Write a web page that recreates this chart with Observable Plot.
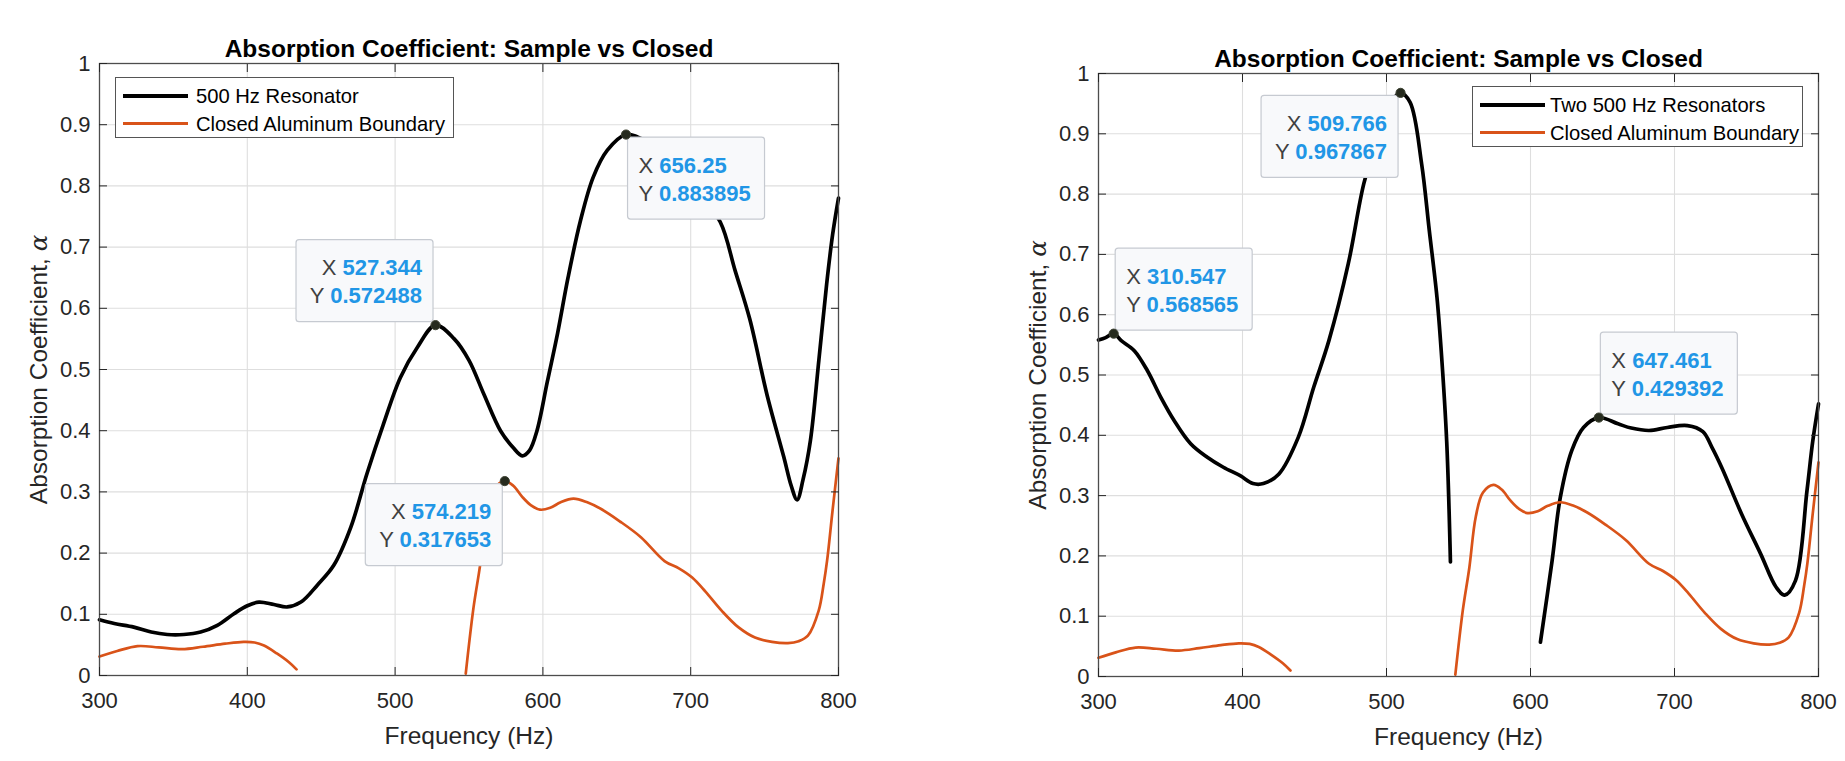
<!DOCTYPE html>
<html>
<head>
<meta charset="utf-8">
<script src="https://cdn.jsdelivr.net/npm/d3@7"></script>
<script src="https://cdn.jsdelivr.net/npm/@observablehq/plot@0.6"></script>
<style>
  body { margin: 0; background: #fff; font-family: "Liberation Sans", Arial, Helvetica, sans-serif; }
  #root { position: relative; width: 1845px; height: 761px; overflow: hidden; background: #fff; }
  .chart { position: absolute; top: 0; }
  .legend { position: absolute; background: #fff; border: 1px solid #555; box-sizing: border-box; }
  .legend .swatch { position: absolute; }
  .legend .lab { position: absolute; font-size: 20.2px; color: #000; line-height: 1; transform: translateY(-50%); white-space: nowrap; }
</style>
</head>
<body>
<div id="root"></div>
<script>
// ---------------- data ----------------
const chartTitle = "Absorption Coefficient: Sample vs Closed";
const xLabel = "Frequency (Hz)";
const yLabelMain = "Absorption Coefficient, ";
const yLabelSymbol = "α";

const xTicks = [300, 400, 500, 600, 700, 800];
const xTickLabels = ["300", "400", "500", "600", "700", "800"];
const yTicks = [0, 0.1, 0.2, 0.3, 0.4, 0.5, 0.6, 0.7, 0.8, 0.9, 1];
const yTickLabels = ["0", "0.1", "0.2", "0.3", "0.4", "0.5", "0.6", "0.7", "0.8", "0.9", "1"];

const nameOne = "500 Hz Resonator";
const nameTwo = "Two 500 Hz Resonators";
const nameClosed = "Closed Aluminum Boundary";

// Closed aluminum boundary (same in both panels); null = curve below the axis
const freqClosed = [300, 312, 325.7, 340, 355.8, 370, 385, 397.5, 405, 411.3, 420, 428, 433.3, 490,
  547.8, 553, 557.5, 562, 567, 574.219, 580, 586, 592, 598, 605, 612, 620.7, 630, 639.4, 652, 666.3,
  682.3, 692, 701, 710, 720.9, 732.2, 743.5, 755, 765.8, 773, 779.3, 786.6, 790, 792.3, 796, 800];
const alphaClosed = [0.031, 0.04, 0.048, 0.046, 0.043, 0.047, 0.052, 0.055, 0.054, 0.049, 0.036, 0.022, 0.01, null,
  0.003, 0.11, 0.18, 0.265, 0.305, 0.317653, 0.31, 0.292, 0.278, 0.271, 0.274, 0.283, 0.289, 0.283, 0.272, 0.252, 0.226,
  0.187, 0.175, 0.16, 0.137, 0.106, 0.079, 0.062, 0.055, 0.053, 0.056, 0.065, 0.106, 0.15, 0.188, 0.27, 0.355];

// One 500 Hz resonator
const freqOne = [300, 310, 323.2, 335, 345.8, 357, 368.4, 379.7, 391, 400, 407.9, 418, 427, 436.3, 447.5, 458.5,
  470, 481, 492, 503.6, 515, 527.344, 540, 550, 560, 571.3, 580, 586, 591, 596, 603, 610, 617, 625.4, 634,
  643.5, 656.25, 664, 675, 690, 705, 720, 730, 740, 751.7, 763, 768, 772, 776, 781, 786.7, 792, 796, 800];
const alphaOne = [0.091, 0.085, 0.079, 0.071, 0.067, 0.067, 0.071, 0.082, 0.101, 0.114, 0.12, 0.116, 0.112, 0.12, 0.148, 0.18,
  0.242, 0.33, 0.41, 0.487, 0.536, 0.572488, 0.55, 0.515, 0.46, 0.40, 0.372, 0.359, 0.368, 0.40, 0.48, 0.56, 0.65, 0.743, 0.814,
  0.858, 0.883895, 0.88, 0.866, 0.83, 0.79, 0.741, 0.662, 0.582, 0.458, 0.357, 0.31, 0.287, 0.32, 0.384, 0.515, 0.64, 0.72, 0.78];

// Two 500 Hz resonators; null = curve outside the axes
const freqTwo = [300, 305, 310.547, 315.8, 325, 334, 343.3, 352.4, 364, 375.3, 386.7, 398.4, 407.3, 414.5, 425.3,
  438.8, 449.5, 460, 473.5, 484.2, 495, 503, 509.766, 516.4, 524.4, 529.7, 535, 538, 541.8, 544.4, 575,
  606.9, 615, 620.7, 628.7, 636.8, 647.461, 660.8, 670, 682.3, 695, 709, 719.7, 726, 733.1, 746.5, 759.9, 770.6,
  776.5, 784, 792, 796, 800];
const alphaTwo = [0.558, 0.562, 0.568565, 0.557, 0.54, 0.507, 0.463, 0.425, 0.386, 0.364, 0.347, 0.333, 0.32, 0.32, 0.336,
  0.397, 0.48, 0.557, 0.685, 0.817, 0.905, 0.952, 0.967867, 0.952, 0.85, 0.74, 0.63, 0.54, 0.39, 0.19, null,
  0.057, 0.192, 0.297, 0.375, 0.413, 0.429392, 0.419, 0.412, 0.408, 0.413, 0.416, 0.406, 0.38, 0.345, 0.27, 0.203, 0.148,
  0.135, 0.159, 0.308, 0.39, 0.452];

// Data tips
const tipOneX = [527.344, 656.25, 574.219];
const tipOneY = [0.572488, 0.883895, 0.317653];
const tipTwoX = [310.547, 509.766, 647.461];
const tipTwoY = [0.568565, 0.967867, 0.429392];

// ---------------- styling / layout ----------------
const FONT = '"Liberation Sans", Arial, Helvetica, sans-serif';
const INK = "#262626";
const BLACK = "#000000";
const ORANGE = "#D95319";
const BLUE = "#2196e6";
const TIP_W = 137, TIP_H = 82;
const placeOne = [{h: "left", v: "above"}, {h: "right", v: "below"}, {h: "left", v: "below"}];
const placeTwo = [{h: "right", v: "above"}, {h: "left", v: "below"}, {h: "right", v: "above"}];
const fmt = d3.format(".6~g");

const rows = (fx, ay) => fx.map((f, i) => ({f, a: ay[i]}));

function tipBoxes(tx, ty, place) {
  return (index, scales) => {
    const g = d3.create("svg:g").attr("font-family", FONT);
    tx.forEach((xv, i) => {
      const px = scales.x(xv), py = scales.y(ty[i]);
      const p = place[i];
      const bx = p.h === "right" ? px + 2 : px - 2 - TIP_W;
      const by = p.v === "below" ? py + 3 : py - 3 - TIP_H;
      g.append("rect").attr("x", bx).attr("y", by).attr("width", TIP_W).attr("height", TIP_H)
        .attr("rx", 3).attr("fill", "#f8f9fb").attr("stroke", "#c6cad1").attr("stroke-width", 1.2);
      const alignEnd = p.h === "left";
      const tx0 = alignEnd ? bx + TIP_W - 11 : bx + 11;
      [["X", xv], ["Y", ty[i]]].forEach(([k, v], j) => {
        const t = g.append("text").attr("x", tx0).attr("y", by + 28 + 28 * j).attr("dy", "0.35em")
          .attr("text-anchor", alignEnd ? "end" : "start").attr("font-size", 22).style("white-space", "pre");
        t.append("tspan").attr("fill", "#404040").text(k + " ");
        t.append("tspan").attr("fill", BLUE).attr("font-weight", "bold").text(fmt(v));
      });
    });
    return g.node();
  };
}

function makeChart({width, height, marginLeft, marginRight, marginTop, marginBottom, main, tx, ty, place}) {
  const svg = Plot.plot({
    width, height, marginLeft, marginRight, marginTop, marginBottom,
    style: {fontFamily: FONT, fontSize: "22px", color: INK, background: "transparent", overflow: "visible"},
    x: {domain: [300, 800], label: null},
    y: {domain: [0, 1], label: null},
    marks: [
      Plot.gridX(xTicks, {stroke: "#dedede", strokeOpacity: 1, strokeWidth: 1.1}),
      Plot.gridY(yTicks, {stroke: "#dedede", strokeOpacity: 1, strokeWidth: 1.1}),
      Plot.line(main, {x: "f", y: "a", stroke: BLACK, strokeWidth: 3.7, curve: "catmull-rom"}),
      Plot.line(rows(freqClosed, alphaClosed), {x: "f", y: "a", stroke: ORANGE, strokeWidth: 2.7, curve: "catmull-rom"}),
      Plot.frame({stroke: "#4d4d4d", strokeWidth: 1.3}),
      Plot.axisX(xTicks, {anchor: "bottom", tickSize: 8, dy: -8, tickPadding: 17, label: null,
        tickFormat: d => xTickLabels[xTicks.indexOf(d)], fontSize: 22, fill: INK}),
      Plot.axisX(xTicks, {anchor: "top", tickSize: 8, dy: 8, label: null, tickFormat: () => ""}),
      Plot.axisY(yTicks, {anchor: "left", tickSize: 8, dx: 8, tickPadding: 9, label: null,
        tickFormat: d => yTickLabels[yTicks.indexOf(d)], fontSize: 22, fill: INK}),
      Plot.axisY(yTicks, {anchor: "right", tickSize: 8, dx: -8, label: null, tickFormat: () => ""}),
      Plot.text([chartTitle], {frameAnchor: "top", dy: -14.5, fontSize: 24.5, fontWeight: "bold", fill: "#000", lineAnchor: "middle", textAnchor: "middle"}),
      Plot.text([xLabel], {frameAnchor: "bottom", dy: 61, fontSize: 24.5, lineAnchor: "middle", textAnchor: "middle", fill: INK}),
      Plot.text([yLabelMain + yLabelSymbol], {frameAnchor: "left", dx: -60, rotate: -90, fontSize: 24.5, lineAnchor: "middle", textAnchor: "middle", fill: INK}),
      tipBoxes(tx, ty, place),
      Plot.dot(rows(tx, ty), {x: "f", y: "a", r: 4.6, fill: "#262b1e", stroke: "#3d4232", strokeWidth: 1})
    ]
  });
  svg.querySelectorAll("text").forEach(t => {
    if (t.textContent === yLabelMain + yLabelSymbol) {
      t.textContent = yLabelMain;
      const ts = document.createElementNS("http://www.w3.org/2000/svg", "tspan");
      ts.setAttribute("font-style", "italic");
      ts.setAttribute("font-family", '"DejaVu Serif", serif');
      ts.textContent = yLabelSymbol;
      t.appendChild(ts);
    }
  });
  return svg;
}

function addLegend(root, left, top, width, textLeft, entries) {
  const box = document.createElement("div");
  box.className = "legend";
  Object.assign(box.style, {left: left + "px", top: top + "px", width: width + "px", height: "61px"});
  entries.forEach((e, i) => {
    const cy = 18 + 27.5 * i;
    const sw = document.createElement("div");
    sw.className = "swatch";
    Object.assign(sw.style, {left: "7px", top: (cy - e.w / 2) + "px", width: "65px", height: e.w + "px", background: e.color});
    const lab = document.createElement("div");
    lab.className = "lab";
    lab.style.left = textLeft + "px";
    lab.style.top = cy + "px";
    lab.textContent = e.name;
    box.appendChild(sw);
    box.appendChild(lab);
  });
  root.appendChild(box);
}

const root = document.getElementById("root");

const left = document.createElement("div");
left.className = "chart"; left.style.left = "0px";
left.appendChild(makeChart({width: 900, height: 761, marginLeft: 99, marginRight: 62, marginTop: 63, marginBottom: 86,
  main: rows(freqOne, alphaOne), tx: tipOneX, ty: tipOneY, place: placeOne}));
root.appendChild(left);

const right = document.createElement("div");
right.className = "chart"; right.style.left = "900px";
right.appendChild(makeChart({width: 945, height: 761, marginLeft: 198, marginRight: 27, marginTop: 73, marginBottom: 85,
  main: rows(freqTwo, alphaTwo), tx: tipTwoX, ty: tipTwoY, place: placeTwo}));
root.appendChild(right);

addLegend(root, 115, 77, 339, 80, [{name: nameOne, color: BLACK, w: 4}, {name: nameClosed, color: ORANGE, w: 3}]);
addLegend(root, 1472, 86, 331, 77, [{name: nameTwo, color: BLACK, w: 4}, {name: nameClosed, color: ORANGE, w: 3}]);
</script>
</body>
</html>
